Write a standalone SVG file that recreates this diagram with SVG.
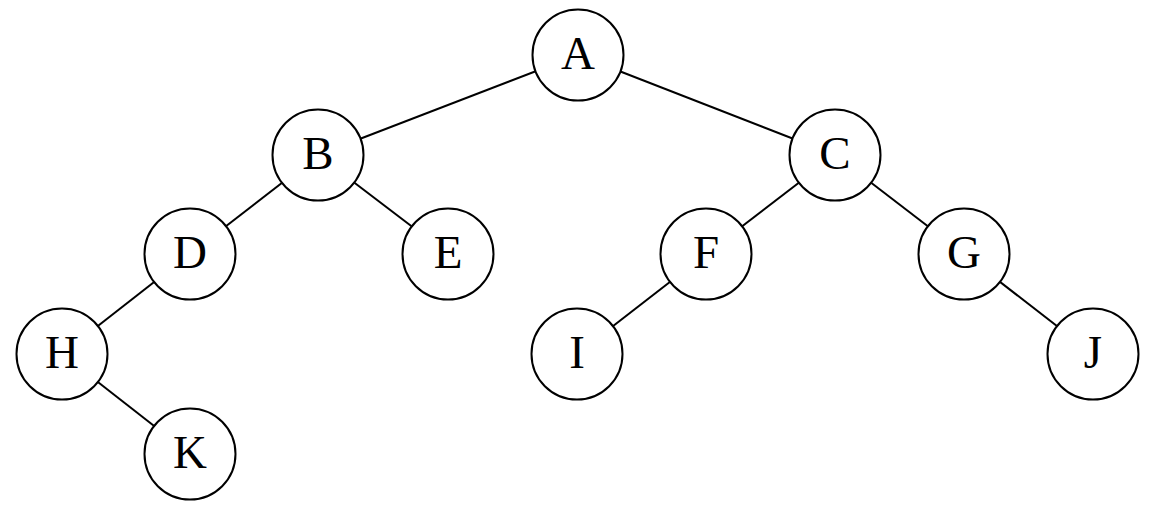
<svg xmlns="http://www.w3.org/2000/svg" width="1152" height="510" viewBox="0 0 1152 510">
<style>
.n circle{fill:#fff;stroke:#000;stroke-width:2}
.n text{font-family:"Liberation Serif","Times New Roman",serif;font-size:47px;text-anchor:middle;fill:#000}
.e line{stroke:#000;stroke-width:2}
</style>
<rect width="1152" height="510" fill="#fff"/>
<g id="edges" class="e">
<line x1="578" y1="55" x2="318" y2="155"/>
<line x1="578" y1="55" x2="835" y2="155"/>
<line x1="318" y1="155" x2="190" y2="254"/>
<line x1="318" y1="155" x2="448" y2="254"/>
<line x1="835" y1="155" x2="706" y2="254"/>
<line x1="835" y1="155" x2="964" y2="254"/>
<line x1="190" y1="254" x2="62" y2="354"/>
<line x1="62" y1="354" x2="190" y2="454"/>
<line x1="706" y1="254" x2="577" y2="354"/>
<line x1="964" y1="254" x2="1093" y2="354"/>
</g>
<g id="A" class="n"><circle cx="578" cy="55" r="45.5"/><text x="578" y="69">A</text></g>
<g id="B" class="n"><circle cx="318" cy="155" r="45.5"/><text x="318" y="169">B</text></g>
<g id="C" class="n"><circle cx="835" cy="155" r="45.5"/><text x="835" y="169">C</text></g>
<g id="D" class="n"><circle cx="190" cy="254" r="45.5"/><text x="190" y="268">D</text></g>
<g id="E" class="n"><circle cx="448" cy="254" r="45.5"/><text x="448" y="268">E</text></g>
<g id="F" class="n"><circle cx="706" cy="254" r="45.5"/><text x="706" y="268">F</text></g>
<g id="G" class="n"><circle cx="964" cy="254" r="45.5"/><text x="964" y="268">G</text></g>
<g id="H" class="n"><circle cx="62" cy="354" r="45.5"/><text x="62" y="368">H</text></g>
<g id="I" class="n"><circle cx="577" cy="354" r="45.5"/><text x="577" y="368">I</text></g>
<g id="J" class="n"><circle cx="1093" cy="354" r="45.5"/><text x="1093" y="368">J</text></g>
<g id="K" class="n"><circle cx="190" cy="454" r="45.5"/><text x="190" y="468">K</text></g>
</svg>
